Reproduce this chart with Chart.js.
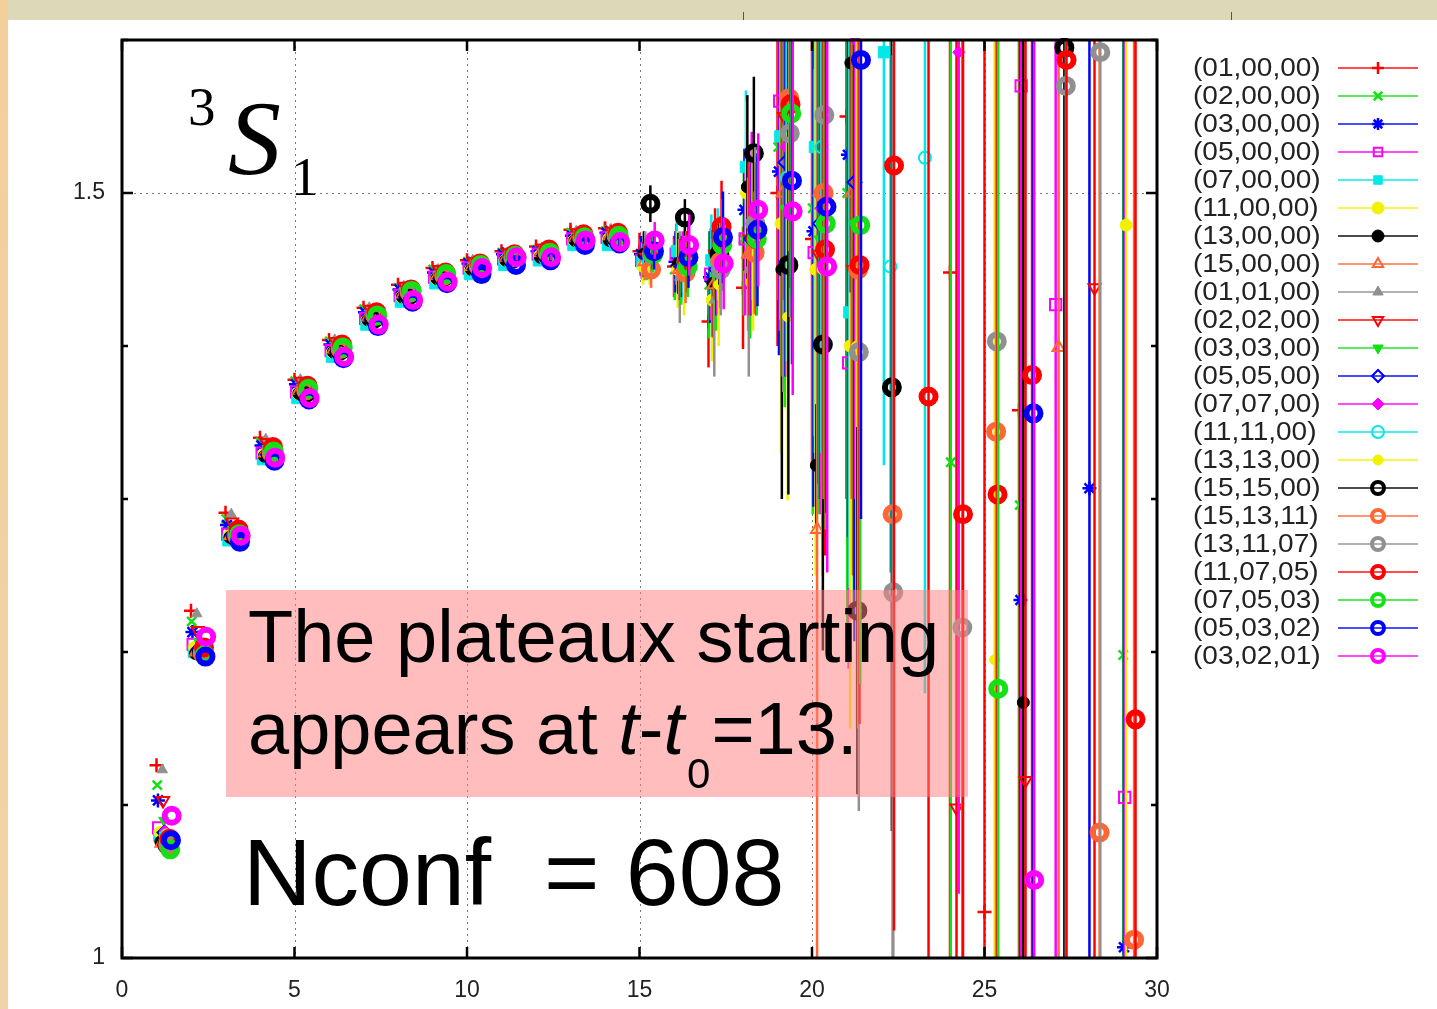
<!DOCTYPE html>
<html>
<head>
<meta charset="utf-8">
<script src="https://cdn.jsdelivr.net/npm/chart.js@4.4.0/dist/chart.umd.min.js"></script>
<style>
  html, body { margin: 0; padding: 0; background: #fff; }
  #wrap { position: relative; width: 1437px; height: 1009px; overflow: hidden; background: #fff; }
  #topband { position: absolute; left: 0; top: 0; width: 1437px; height: 20px; background: #dcd9b9; }
  #leftband { position: absolute; left: 0; top: 0; width: 8px; height: 1009px; background: linear-gradient(#f3cf9c, #f0d3a6); }
  .mark { position: absolute; top: 12px; width: 1px; height: 8px; background: #555; }
  canvas { position: absolute; left: 0; top: 0; }
  .txt { position: absolute; color: #000; white-space: pre; }
  #box { position: absolute; left: 226px; top: 590px; width: 742px; height: 207px; background: rgba(255, 128, 128, 0.52); }
</style>
</head>
<body>
<div id="wrap">
  <div id="topband"></div>
  <div id="leftband"></div>
  <div class="mark" style="left:743px"></div>
  <div class="mark" style="left:1231px"></div>
  <canvas id="chartCanvas" width="1437" height="1009"></canvas>

  <div class="txt" style="left:188px;top:79px;font:55px/55px 'Liberation Serif',serif">3</div>
  <div class="txt" style="left:228px;top:86px;font:italic 106px/106px 'Liberation Serif',serif">S</div>
  <div class="txt" style="left:291px;top:149px;font:55px/55px 'Liberation Serif',serif">1</div>

  <div id="box"></div>
  <div class="txt" style="left:248px;top:591px;font:74px/92px 'Liberation Sans',Arial,sans-serif">The plateaux starting
appears at <i>t</i>-<i>t</i><span style="font-size:42px;position:relative;top:34px;left:3px">0</span><span style="position:relative;left:4px">=13.</span></div>
  <div class="txt" style="left:243px;top:825px;font:95px/95px 'Liberation Sans',Arial,sans-serif">Nconf  = 608</div>
</div>

<script>
// tiempos t - t0
const tiempos = [1,2,3,4,5,6,7,8,9,10,11,12,13,14,15,16,17,18,19,20,21,22,23,24,25,26,27,28,29];

const etiquetas = ['(01,00,00)','(02,00,00)','(03,00,00)','(05,00,00)','(07,00,00)','(11,00,00)',
  '(13,00,00)','(15,00,00)','(01,01,00)','(02,02,00)','(03,03,00)','(05,05,00)','(07,07,00)',
  '(11,11,00)','(13,13,00)','(15,15,00)','(15,13,11)','(13,11,07)','(11,07,05)','(07,05,03)',
  '(05,03,02)','(03,02,01)'];

// valores efectivos por serie (null = sin punto)
const s01_00_00 = [1.126,1.227,1.291,1.340,1.378,1.404,1.425,1.440,1.451,1.456,1.462,1.465,1.476,1.477,1.462,1.452,1.416,1.438,1.50,1.47,1.55,null,null,1.448,1.03,1.358,null,null,null];
const s02_00_00 = [1.113,1.220,1.287,1.337,1.377,1.403,1.424,1.438,1.450,1.455,1.461,1.463,1.474,1.475,1.458,1.450,1.440,1.470,1.530,1.490,1.500,null,null,1.324,null,1.296,null,null,1.198];
const s03_00_00 = [1.103,1.213,1.283,1.335,1.375,1.401,1.422,1.437,1.448,1.454,1.460,1.462,1.472,1.474,1.460,1.455,1.445,1.489,1.514,1.475,1.525,null,null,null,null,1.234,null,1.307,1.007];
const s05_00_00 = [1.085,1.205,1.277,1.330,1.370,1.397,1.418,1.433,1.445,1.451,1.457,1.460,1.470,1.471,1.456,1.460,1.447,1.470,1.560,1.461,1.389,null,null,null,null,1.570,1.427,null,1.105];
const s07_00_00 = [1.080,1.200,1.273,1.326,1.366,1.393,1.414,1.429,1.441,1.447,1.453,1.456,1.466,1.466,1.455,1.462,1.456,1.517,1.537,1.530,1.422,1.592,null,null,null,null,null,null,null];
const s11_00_00 = [1.082,1.203,1.276,1.329,1.369,1.396,1.417,1.432,1.444,1.450,1.456,1.459,1.469,1.470,1.452,1.450,1.430,1.500,1.480,1.450,1.400,null,null,null,null,null,null,null,1.479];
const s13_00_00 = [1.076,1.199,1.275,1.328,1.369,1.396,1.417,1.432,1.444,1.450,1.456,1.458,1.469,1.469,1.460,1.454,1.441,1.504,1.450,1.322,1.585,null,null,null,null,1.167,null,null,null];
const s15_00_00 = [1.075,1.200,1.276,1.330,1.371,1.398,1.419,1.434,1.446,1.452,1.458,1.461,1.471,1.472,1.455,1.450,1.440,1.460,1.500,1.280,1.500,null,null,null,null,null,1.399,null,null];
const s01_01_00 = [1.123,1.225,1.290,1.339,1.378,1.404,1.425,1.439,1.450,1.456,1.461,1.464,1.475,1.476,1.460,1.445,1.430,1.450,1.520,1.500,null,null,null,null,null,null,null,null,null];
const s02_02_00 = [1.103,1.214,1.285,1.337,1.377,1.403,1.424,1.439,1.450,1.455,1.461,1.464,1.474,1.475,1.458,1.450,1.460,1.470,1.550,1.460,1.450,null,null,1.098,null,1.116,null,1.438,null];
const s03_03_00 = [1.090,1.207,1.280,1.333,1.373,1.400,1.421,1.436,1.447,1.453,1.459,1.462,1.472,1.473,1.455,1.447,1.445,1.465,1.490,1.470,1.480,null,null,null,null,null,null,null,null];
const s05_05_00 = [1.082,1.202,1.276,1.329,1.369,1.396,1.417,1.432,1.444,1.450,1.456,1.459,1.469,1.470,1.458,1.452,1.450,1.470,1.520,1.480,1.507,null,null,null,null,null,null,null,null];
const s07_07_00 = [1.083,1.203,1.277,1.330,1.370,1.397,1.418,1.433,1.445,1.451,1.457,1.460,1.470,1.471,1.460,1.455,1.450,1.480,1.530,1.490,1.600,null,null,1.592,null,null,null,null,null];
const s11_11_00 = [1.080,1.200,1.274,1.327,1.367,1.394,1.415,1.430,1.442,1.448,1.454,1.457,1.467,1.468,1.455,1.450,1.460,1.480,1.510,1.530,null,1.452,1.523,null,null,null,null,null,null];
const s13_13_00 = [1.081,1.201,1.275,1.328,1.368,1.395,1.416,1.431,1.443,1.449,1.455,1.458,1.468,1.469,1.452,1.445,1.440,1.470,1.419,1.450,1.400,null,null,null,1.195,null,null,null,null];
const s15_15_00 = [1.074,1.200,1.275,1.329,1.369,1.397,1.418,1.433,1.445,1.451,1.457,1.460,1.470,1.471,1.493,1.484,1.460,1.526,1.453,1.401,1.227,1.373,null,null,null,null,1.595,null,null];
const s15_13_11 = [1.074,1.199,1.276,1.330,1.371,1.398,1.420,1.435,1.446,1.452,1.458,1.461,1.471,1.472,1.450,1.448,1.455,1.461,1.562,1.500,1.450,1.290,null,null,1.344,null,null,1.082,1.012];
const s13_11_07 = [1.076,1.201,1.277,1.331,1.372,1.399,1.420,1.435,1.447,1.453,1.458,1.461,1.471,1.472,1.460,1.455,1.450,1.480,1.539,1.551,1.396,1.239,null,1.216,1.403,null,1.570,1.592,null];
const s11_07_05 = [1.078,1.203,1.280,1.334,1.374,1.401,1.422,1.437,1.448,1.454,1.460,1.463,1.473,1.474,1.462,1.455,1.478,1.470,1.558,1.463,1.453,1.518,1.367,1.290,1.303,1.381,1.587,null,1.156];
const s07_05_03 = [1.071,1.198,1.277,1.331,1.372,1.399,1.420,1.436,1.447,1.453,1.459,1.461,1.471,1.472,1.460,1.452,1.466,1.470,1.552,1.480,1.479,null,null,null,1.176,null,null,null,null];
const s05_03_02 = [1.077,1.197,1.272,1.325,1.365,1.392,1.413,1.429,1.441,1.447,1.453,1.456,1.466,1.467,1.462,1.458,1.471,1.476,1.508,1.491,1.587,null,null,null,null,1.356,null,null,null];
const s03_02_01 = [1.093,1.210,1.276,1.327,1.366,1.393,1.414,1.430,1.442,1.451,1.458,1.458,1.469,1.468,1.469,1.466,1.454,1.489,1.488,1.452,null,null,null,null,null,1.051,null,null,null];

// errores (barras verticales)
const e01_00_00 = [0,0,0,0,0,0,0,0,0,0,.002,.002,.003,.004,.012,.02,.03,.04,.1,.15,.25,0,0,.6,.6,.5,0,0,0];
const e02_00_00 = [0,0,0,0,0,0,0,0,0,0,.002,.002,.003,.004,.012,.02,.035,.05,.1,.2,.3,0,0,.7,0,.8,0,0,.9];
const e03_00_00 = [0,0,0,0,0,0,0,0,0,0,.002,.002,.003,.004,.012,.02,.03,.04,.12,.18,.25,0,0,0,0,.8,0,.7,.6];
const e05_00_00 = [0,0,0,0,0,0,0,0,0,0,.002,.002,.003,.004,.012,.02,.03,.05,.15,.12,.2,0,0,0,0,.6,.7,0,.8];
const e07_00_00 = [0,0,0,0,0,0,0,0,0,0,.002,.002,.003,.004,.012,.02,.03,.05,.12,.2,.18,.27,0,0,0,0,0,0,0];
const e11_00_00 = [0,0,0,0,0,0,0,0,0,0,.002,.002,.003,.004,.012,.025,.04,.06,.15,.2,.25,0,0,0,0,0,0,0,.9];
const e13_00_00 = [0,0,0,0,0,0,0,0,0,0,.002,.002,.003,.004,.015,.02,.035,.06,.15,.04,.15,0,0,0,0,.9,0,0,0];
const e15_00_00 = [0,0,0,0,0,0,0,0,0,0,.002,.002,.003,.004,.012,.02,.035,.05,.12,.45,.2,0,0,0,0,0,.7,0,0];
const e01_01_00 = [0,0,0,0,0,0,0,0,0,0,.002,.002,.003,.004,.015,.03,.05,.07,.15,.2,0,0,0,0,0,0,0,0,0];
const e02_02_00 = [0,0,0,0,0,0,0,0,0,0,.002,.002,.003,.004,.012,.02,.03,.05,.12,.15,.2,0,0,.6,0,.7,0,.8,0];
const e03_03_00 = [0,0,0,0,0,0,0,0,0,0,.002,.002,.003,.004,.012,.02,.035,.06,.13,.18,.25,0,0,0,0,0,0,0,0];
const e05_05_00 = [0,0,0,0,0,0,0,0,0,0,.002,.002,.003,.004,.012,.02,.03,.05,.14,.18,.3,0,0,0,0,0,0,0,0];
const e07_07_00 = [0,0,0,0,0,0,0,0,0,0,.002,.002,.003,.004,.012,.02,.03,.06,.15,.2,.3,0,0,.55,0,0,0,0,0];
const e11_11_00 = [0,0,0,0,0,0,0,0,0,0,.002,.002,.003,.004,.012,.02,.03,.05,.12,.2,0,.2,.35,0,0,0,0,0,0];
const e13_13_00 = [0,0,0,0,0,0,0,0,0,0,.002,.002,.003,.004,.012,.025,.04,.06,.12,.2,.25,0,0,0,.7,0,0,0,0];
const e15_15_00 = [0,0,0,0,0,0,0,0,0,0,.002,.002,.003,.004,.012,.012,.02,.05,.15,.2,.12,.29,0,0,0,0,.9,0,0];
const e15_13_11 = [0,0,0,0,0,0,0,0,0,0,.002,.002,.003,.004,.012,.02,.03,.04,.1,.2,.3,.3,0,0,.7,0,0,.9,1.0];
const e13_11_07 = [0,0,0,0,0,0,0,0,0,0,.002,.002,.003,.004,.012,.02,.03,.05,.12,.2,.3,.4,0,.6,.7,0,.8,.9,0];
const e11_07_05 = [0,0,0,0,0,0,0,0,0,0,.002,.002,.003,.004,.012,.02,.03,.05,.12,.2,.3,.5,.6,.7,.8,.8,.9,0,1.0];
const e07_05_03 = [0,0,0,0,0,0,0,0,0,0,.002,.002,.003,.004,.012,.02,.03,.05,.12,.2,.3,0,0,0,.8,0,0,0,0];
const e05_03_02 = [0,0,0,0,0,0,0,0,0,0,.002,.002,.003,.004,.012,.02,.03,.05,.12,.2,.3,0,0,0,0,.8,0,0,0];
const e03_02_01 = [0,0,0,0,0,0,0,0,0,0,.002,.002,.003,.004,.012,.02,.03,.05,.12,.2,0,0,0,0,0,.7,0,0,0];

const valores = [s01_00_00,s02_00_00,s03_00_00,s05_00_00,s07_00_00,s11_00_00,s13_00_00,s15_00_00,
  s01_01_00,s02_02_00,s03_03_00,s05_05_00,s07_07_00,s11_11_00,s13_13_00,s15_15_00,s15_13_11,
  s13_11_07,s11_07_05,s07_05_03,s05_03_02,s03_02_01];
const errores = [e01_00_00,e02_00_00,e03_00_00,e05_00_00,e07_00_00,e11_00_00,e13_00_00,e15_00_00,
  e01_01_00,e02_02_00,e03_03_00,e05_05_00,e07_07_00,e11_11_00,e13_13_00,e15_15_00,e15_13_11,
  e13_11_07,e11_07_05,e07_05_03,e05_03_02,e03_02_01];

// estilos tipo gnuplot
const colores = ['#ff0000','#14e014','#0000ff','#ff00ff','#00e8e8','#f2f200','#000000','#ff6633','#909090'];
const simbolos = ['cross','crossRot','star','rect','rect','circle','circle','triangle','triangle','triangle',
  'triangle','rectRot','rectRot','circle','circle','circle','circle','circle','circle','circle','circle','circle'];
const rellenos = [0,0,0,0,1,1,1,0,1,0,1,0,1,0,1,0,0,0,0,0,0,0];
const radios = [7,6.5,7,8,8,6,6,7,6,7,6,7,6,6,5,7,7,7,7,7,7,7];
const giros = [0,0,0,0,0,0,0,0,0,180,180,0,0,0,0,0,0,0,0,0,0,0];
const grosores = [2.5,2.5,2.5,2,1,1,1,2,1,2,1,2,1,2,1,6,6,6,6,6,6,6];
const desplazamiento = 0.021;

const datasets = etiquetas.map((lab, i) => {
  const color = colores[i % colores.length];
  const data = [];
  tiempos.forEach((t, k) => {
    const v = valores[i][k];
    if (v === null) return;
    data.push({ x: t + desplazamiento * i, y: v, e: errores[i][k] });
  });
  return {
    label: lab,
    data: data,
    showLine: false,
    borderColor: color,
    backgroundColor: color,
    pointStyle: simbolos[i],
    pointRadius: radios[i],
    pointRotation: giros[i],
    pointBorderWidth: grosores[i],
    pointBorderColor: color,
    pointBackgroundColor: rellenos[i] ? color : 'rgba(0,0,0,0)',
    order: etiquetas.length - 1 - i,
    clip: 2
  };
});

// barras de error, dibujadas antes de cada serie
const barrasError = {
  id: 'barrasError',
  beforeDatasetDraw(chart, args) {
    const ds = chart.data.datasets[args.index];
    const a = chart.chartArea;
    const xs = chart.scales.x, ys = chart.scales.y;
    const ctx = chart.ctx;
    ctx.save();
    ctx.beginPath();
    ctx.rect(a.left, a.top, a.right - a.left, a.bottom - a.top);
    ctx.clip();
    ctx.strokeStyle = ds.borderColor;
    ctx.lineWidth = 2.5;
    ds.data.forEach(p => {
      if (!p.e) return;
      const x = xs.getPixelForValue(p.x);
      ctx.beginPath();
      ctx.moveTo(x, ys.getPixelForValue(p.y - p.e));
      ctx.lineTo(x, ys.getPixelForValue(p.y + p.e));
      ctx.stroke();
    });
    ctx.restore();
  }
};

// rejilla punteada, marco y marcas hacia dentro
const marco = {
  id: 'marco',
  beforeDatasetsDraw(chart) {
    const a = chart.chartArea, ctx = chart.ctx;
    const xs = chart.scales.x, ys = chart.scales.y;
    ctx.save();
    ctx.strokeStyle = '#777';
    ctx.lineWidth = 1;
    ctx.setLineDash([2, 4]);
    [5, 10, 15, 20, 25].forEach(v => {
      const x = Math.round(xs.getPixelForValue(v)) + 0.5;
      ctx.beginPath(); ctx.moveTo(x, a.top); ctx.lineTo(x, a.bottom); ctx.stroke();
    });
    const y15 = Math.round(ys.getPixelForValue(1.5)) + 0.5;
    ctx.beginPath(); ctx.moveTo(a.left, y15); ctx.lineTo(a.right, y15); ctx.stroke();
    ctx.restore();
  },
  afterDatasetsDraw(chart) {
    const a = chart.chartArea, ctx = chart.ctx;
    const xs = chart.scales.x, ys = chart.scales.y;
    ctx.save();
    ctx.strokeStyle = '#000';
    ctx.lineWidth = 3;
    ctx.strokeRect(a.left, a.top, a.right - a.left, a.bottom - a.top);
    ctx.lineWidth = 2.5;
    [0, 5, 10, 15, 20, 25, 30].forEach(v => {
      const x = xs.getPixelForValue(v);
      ctx.beginPath();
      ctx.moveTo(x, a.bottom); ctx.lineTo(x, a.bottom - 11);
      ctx.moveTo(x, a.top); ctx.lineTo(x, a.top + 11);
      ctx.stroke();
    });
    [1, 1.1, 1.2, 1.3, 1.4, 1.5, 1.6].forEach(v => {
      const y = ys.getPixelForValue(v);
      const largo = (Math.abs(v - 1) < 1e-6 || Math.abs(v - 1.5) < 1e-6) ? 11 : 6;
      ctx.beginPath();
      ctx.moveTo(a.left, y); ctx.lineTo(a.left + largo, y);
      ctx.moveTo(a.right, y); ctx.lineTo(a.right - largo, y);
      ctx.stroke();
    });
    ctx.restore();
  }
};

// leyenda a la derecha, estilo gnuplot
const leyenda = {
  id: 'leyenda',
  afterDraw(chart) {
    const ctx = chart.ctx;
    chart.data.datasets.forEach((ds, i) => {
      const y = 68 + 28 * i;
      ctx.save();
      ctx.translate(1193, y);
      ctx.scale(1.12, 1);
      ctx.font = '25px "Liberation Sans", Arial, sans-serif';
      ctx.fillStyle = '#222';
      ctx.textBaseline = 'middle';
      ctx.fillText(ds.label, 0, 1);
      ctx.restore();

      ctx.save();
      ctx.globalAlpha = 0.7;
      ctx.strokeStyle = ds.borderColor;
      ctx.lineWidth = 2;
      ctx.beginPath(); ctx.moveTo(1338, y); ctx.lineTo(1418, y); ctx.stroke();
      ctx.restore();

      ctx.save();
      ctx.strokeStyle = ds.borderColor;
      ctx.fillStyle = ds.pointBackgroundColor;
      ctx.lineWidth = Math.min(ds.pointBorderWidth, 4);
      Chart.helpers.drawPoint(ctx, {
        pointStyle: ds.pointStyle,
        radius: Math.min(ds.pointRadius, 6),
        rotation: ds.pointRotation,
        borderWidth: ds.pointBorderWidth
      }, 1378, y);
      ctx.restore();
    });
  }
};

const fuenteEje = { family: "'Liberation Sans', Arial, sans-serif", size: 23 };

new Chart(document.getElementById('chartCanvas').getContext('2d'), {
  type: 'scatter',
  data: { datasets: datasets },
  options: {
    responsive: false,
    animation: false,
    events: [],
    devicePixelRatio: 1,
    layout: { padding: { left: 0, right: 280, top: 40, bottom: 0 } },
    plugins: { legend: { display: false }, tooltip: { enabled: false } },
    scales: {
      x: {
        type: 'linear', min: 0, max: 30,
        grid: { display: false, drawTicks: false },
        border: { display: false },
        ticks: { stepSize: 5, padding: 19, color: '#222', font: fuenteEje, maxRotation: 0 },
        afterFit(s) { s.height = 51; }
      },
      y: {
        type: 'linear', min: 1, max: 1.6,
        grid: { display: false, drawTicks: false },
        border: { display: false },
        ticks: {
          stepSize: 0.1, padding: 17, color: '#222', font: fuenteEje,
          callback: v => Math.abs(v - 1) < 1e-6 ? '1' : (Math.abs(v - 1.5) < 1e-6 ? '1.5' : '')
        },
        afterFit(s) { s.width = 122; }
      }
    }
  },
  plugins: [barrasError, marco, leyenda]
});
</script>
</body>
</html>
